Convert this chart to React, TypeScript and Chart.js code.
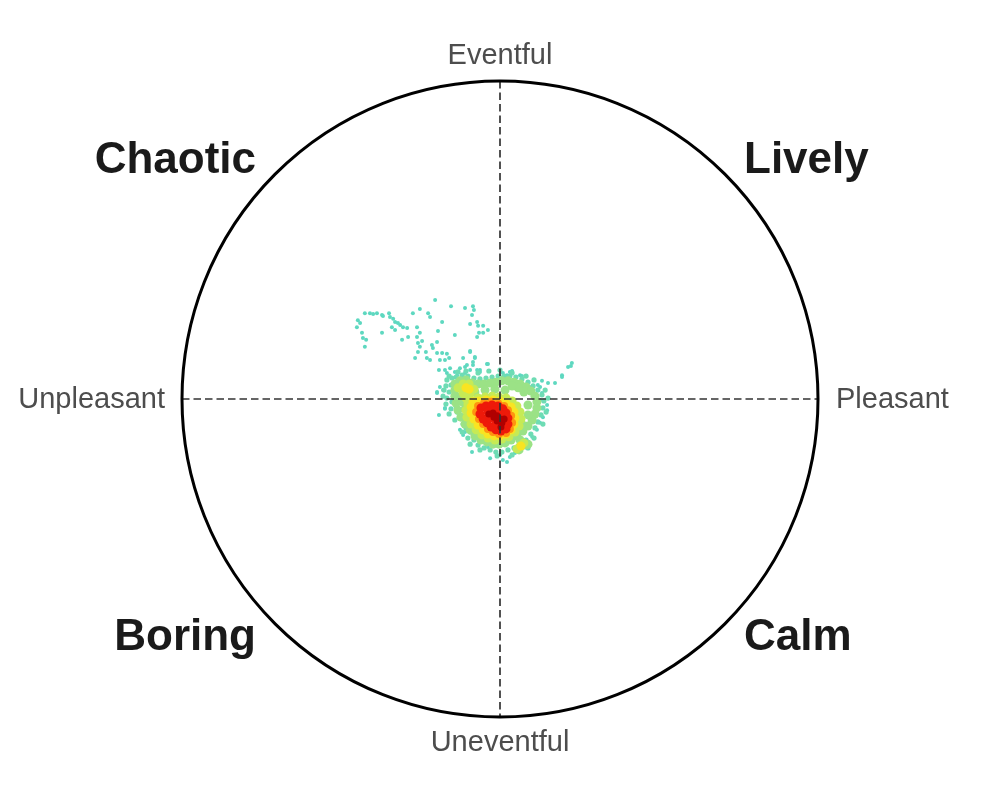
import React, { useEffect, useRef } from "react";
import { Chart, registerables } from "chart.js";

Chart.register(...registerables);

type P = { x: number; y: number };
const pts = (a: number[][]): P[] => a.map(([x, y]) => ({ x, y }));

// Axis / region labels
const axisLabels = { top: "Eventful", bottom: "Uneventful", left: "Unpleasant", right: "Pleasant" };
const quadrantLabels = { tl: "Chaotic", tr: "Lively", bl: "Boring", br: "Calm" };

// Sparse (lowest density) points
const sparsePoints: number[][] = [
  [-0.425, 0.27], [-0.409, 0.27], [-0.399, 0.267], [-0.387, 0.27], [-0.371, 0.264], [-0.368, 0.261],
  [-0.349, 0.27], [-0.346, 0.258], [-0.336, 0.252], [-0.33, 0.242], [-0.321, 0.239], [-0.314, 0.233],
  [-0.305, 0.226], [-0.292, 0.223], [-0.33, 0.217], [-0.34, 0.226], [-0.447, 0.248], [-0.45, 0.226],
  [-0.44, 0.239], [-0.434, 0.208], [-0.431, 0.192], [-0.421, 0.186], [-0.425, 0.164], [-0.371, 0.208],
  [-0.308, 0.186], [-0.289, 0.195], [-0.274, 0.27], [-0.252, 0.283], [-0.204, 0.311], [-0.226, 0.27],
  [-0.22, 0.258], [-0.182, 0.242], [-0.195, 0.214], [-0.142, 0.201], [-0.154, 0.292], [-0.11, 0.286],
  [-0.085, 0.292], [-0.082, 0.28], [-0.088, 0.264], [-0.094, 0.236], [-0.072, 0.242], [-0.069, 0.23],
  [-0.053, 0.23], [-0.038, 0.217], [-0.066, 0.208], [-0.072, 0.195], [-0.053, 0.208], [-0.261, 0.226],
  [-0.252, 0.208], [-0.261, 0.195], [-0.245, 0.182], [-0.258, 0.176], [-0.252, 0.164], [-0.258, 0.148],
  [-0.267, 0.129], [-0.233, 0.148], [-0.214, 0.17], [-0.211, 0.16], [-0.198, 0.145], [-0.23, 0.129],
  [-0.22, 0.123], [-0.189, 0.123], [-0.167, 0.142], [-0.16, 0.129], [-0.192, 0.091], [-0.173, 0.091],
  [-0.157, 0.097], [-0.167, 0.082], [-0.142, 0.085], [-0.126, 0.097], [-0.135, 0.075], [-0.11, 0.082],
  [-0.094, 0.091], [-0.104, 0.107], [-0.085, 0.116], [-0.094, 0.148], [-0.079, 0.129], [-0.063, 0.091],
  [-0.041, 0.11], [-0.072, 0.091], [-0.198, 0.179], [-0.182, 0.145], [-0.173, 0.123], [-0.116, 0.129],
  [-0.094, 0.151], [-0.079, 0.132], [-0.11, 0.101], [-0.085, 0.107], [-0.063, 0.085], [-0.038, 0.11],
  [-0.025, 0.066], [-0.016, 0.053], [0.009, 0.082], [0.031, 0.085], [0.025, 0.069], [0.063, 0.075],
  [0.053, 0.053], [0.094, 0.038], [0.119, 0.044], [0.195, 0.075], [0.214, 0.101], [-0.198, 0.022],
  [-0.173, -0.028], [0.132, 0.019], [0.148, -0.019], [0.038, 0.088], [0.022, 0.075], [0.009, 0.069],
  [0.069, 0.072], [0.041, 0.06], [0.072, 0.038], [0.101, 0.031], [0.126, 0.038], [0.132, 0.057],
  [0.151, 0.05], [0.173, 0.05], [0.195, 0.069], [0.223, 0.104], [0.226, 0.113], [0.11, -0.003],
  [0.126, -0.003], [0.148, -0.035], [0.135, -0.057], [0.126, -0.075], [0.116, -0.097], [0.101, -0.119],
  [0.085, -0.138], [-0.088, -0.167], [-0.038, -0.151], [-0.031, -0.186], [0.0, -0.176], [0.009, -0.192],
  [0.031, -0.182], [0.022, -0.198], [0.047, -0.17], [-0.116, -0.113], [-0.11, -0.104], [-0.126, -0.097],
  [-0.192, -0.05], [-0.173, -0.031], [-0.198, 0.019], [-0.189, 0.038], [-0.179, 0.028],
];

// Low density (dense teal) points
const tealPoints: number[][] = [
  [-0.167, 0.06], [-0.151, 0.066], [-0.17, 0.041], [-0.154, 0.044], [-0.16, 0.022], [-0.145, 0.013],
  [-0.167, 0.003], [-0.151, -0.009], [-0.138, -0.022], [-0.154, -0.031], [-0.135, -0.041], [-0.126, -0.06],
  [-0.116, -0.079], [-0.107, -0.091], [-0.094, -0.104], [-0.101, -0.123], [-0.082, -0.129], [-0.069, -0.145],
  [-0.05, -0.154], [-0.031, -0.16], [-0.013, -0.167], [0.006, -0.167], [0.025, -0.16], [0.044, -0.154],
  [0.063, -0.142], [0.082, -0.129], [0.097, -0.11], [0.11, -0.091], [0.119, -0.072], [0.129, -0.05],
  [0.135, -0.028], [0.138, -0.006], [0.132, 0.013], [0.119, 0.028], [0.104, 0.041], [0.088, 0.053],
  [0.069, 0.063], [0.05, 0.069], [0.031, 0.072], [0.013, 0.072], [-0.006, 0.072], [-0.025, 0.069],
  [-0.044, 0.066], [-0.063, 0.063], [-0.082, 0.066], [-0.101, 0.072], [-0.119, 0.075], [-0.138, 0.069],
  [-0.176, 0.028], [-0.16, 0.072], [-0.132, 0.085], [-0.107, 0.088], [-0.069, 0.082], [-0.035, 0.088],
  [0.0, 0.091], [0.038, 0.082], [0.082, 0.072], [0.107, 0.06], [0.142, 0.028], [0.151, 0.003],
  [0.145, -0.041], [0.135, -0.079], [0.107, -0.123], [0.088, -0.154], [0.038, -0.176], [-0.009, -0.179],
  [-0.063, -0.16], [-0.094, -0.142], [-0.119, -0.104], [-0.142, -0.066], [-0.16, -0.047], [-0.17, -0.016],
  [-0.179, 0.009],
];

// Medium-low density (green)
const greenPoints: number[][] = [
  [-0.142, 0.047], [-0.126, 0.057], [-0.107, 0.06], [-0.088, 0.05], [-0.069, 0.047], [-0.05, 0.047],
  [-0.031, 0.05], [-0.013, 0.053], [0.006, 0.057], [0.025, 0.057], [0.044, 0.053], [0.063, 0.047],
  [0.082, 0.038], [0.097, 0.025], [0.11, 0.009], [0.116, -0.009], [0.116, -0.028], [0.11, -0.047],
  [0.101, -0.066], [0.088, -0.085], [0.072, -0.101], [0.053, -0.116], [0.035, -0.129], [0.016, -0.138],
  [-0.003, -0.142], [-0.022, -0.142], [-0.041, -0.135], [-0.06, -0.129], [-0.079, -0.116], [-0.094, -0.097],
  [-0.11, -0.079], [-0.123, -0.057], [-0.132, -0.035], [-0.138, -0.013], [-0.142, 0.009], [-0.142, 0.028],
  [-0.126, 0.035], [-0.119, 0.013], [-0.119, -0.009], [-0.11, -0.031], [0.063, -0.129], [0.079, -0.145],
  [0.06, -0.16], [0.088, -0.142], [0.075, 0.022], [0.057, 0.035], [0.038, 0.041], [0.088, -0.019],
  [0.088, -0.05], [0.069, -0.079], [0.047, -0.097], [-0.047, 0.028], [-0.016, 0.031], [0.016, 0.028],
  [-0.079, 0.022],
];

// Medium density (yellow-green)
const yellowGreenPoints: number[][] = [
  [-0.132, 0.035], [-0.116, 0.047], [-0.097, 0.047], [-0.082, 0.031], [-0.094, 0.019], [-0.116, 0.019],
  [-0.107, 0.003], [-0.091, -0.003], [-0.069, 0.003], [-0.047, 0.006], [-0.025, 0.009], [-0.003, 0.006],
  [0.019, 0.003], [0.038, -0.006], [0.053, -0.022], [0.063, -0.041], [0.066, -0.063], [0.06, -0.085],
  [0.047, -0.104], [0.028, -0.119], [0.006, -0.126], [-0.016, -0.129], [-0.038, -0.123], [-0.057, -0.113],
  [-0.075, -0.097], [-0.091, -0.079], [-0.104, -0.057], [-0.107, -0.035], [-0.101, -0.016], [0.063, -0.148],
  [0.075, -0.138], [0.053, -0.157], [-0.104, 0.031],
];

// Medium-high density (yellow)
const yellowPoints: number[][] = [
  [-0.107, 0.035], [-0.097, 0.031], [-0.085, -0.009], [-0.066, -0.006],
  [-0.044, -0.003], [-0.022, -0.003], [0.0, -0.006], [0.019, -0.013], [0.035, -0.025], [0.044, -0.041],
  [0.047, -0.06], [0.044, -0.079], [0.035, -0.097], [0.019, -0.11], [0.0, -0.116], [-0.019, -0.116],
  [-0.038, -0.11], [-0.053, -0.097], [-0.069, -0.082], [-0.082, -0.063], [-0.091, -0.044], [-0.091, -0.025],
  [0.066, -0.148],
];

// High density (orange)
const orangePoints: number[][] = [
  [-0.069, -0.022], [-0.05, -0.013], [-0.028, -0.009], [-0.006, -0.013], [0.013, -0.022], [0.025, -0.035],
  [0.035, -0.053], [0.038, -0.075], [0.031, -0.094], [0.019, -0.107], [-0.003, -0.11], [-0.022, -0.104],
  [-0.038, -0.094], [-0.053, -0.079], [-0.066, -0.063], [-0.075, -0.041],
];

// Very high density (red)
const redPoints: number[][] = [
  [-0.06, -0.028], [-0.044, -0.022], [-0.025, -0.019], [-0.006, -0.022], [0.009, -0.031], [0.019, -0.044],
  [0.025, -0.06], [0.025, -0.079], [0.019, -0.094], [0.003, -0.101], [-0.013, -0.097], [-0.028, -0.088],
  [-0.041, -0.075], [-0.053, -0.063], [-0.063, -0.047], [-0.038, -0.041], [-0.019, -0.038], [0.0, -0.047],
  [-0.016, -0.063], [0.003, -0.066], [-0.031, -0.06], [-0.009, -0.082], [0.009, -0.082],
];

// Peak density (dark red)
const darkRedPoints: number[][] = [
  [-0.022, -0.044], [-0.009, -0.053], [0.0, -0.063], [0.006, -0.075], [0.003, -0.088], [-0.009, -0.069],
  [-0.019, -0.057], [0.013, -0.063], [-0.035, -0.047],
];

const layerColors = ["#b00000", "#ee1a0a", "#ff9410", "#f8e422", "#c6ea55", "#9be286", "#6edcb4", "#5ed8c0"];
const layerRadii = [3.5, 4.5, 4, 4.5, 4.5, 4.5, 2.6, 2];

const overlay = {
  id: "circumplex",
  afterDatasetsDraw(chart: any) {
    const { ctx, scales } = chart;
    const xs = scales.x;
    const ys = scales.y;
    const cx = xs.getPixelForValue(0);
    const cy = ys.getPixelForValue(0);
    const r = xs.getPixelForValue(1) - cx;
    ctx.save();
    // dashed axes
    ctx.strokeStyle = "#333333";
    ctx.lineWidth = 1.7;
    ctx.setLineDash([7.5, 4]);
    ctx.beginPath();
    ctx.moveTo(xs.getPixelForValue(-1), cy);
    ctx.lineTo(xs.getPixelForValue(1), cy);
    ctx.moveTo(cx, ys.getPixelForValue(1));
    ctx.lineTo(cx, ys.getPixelForValue(-1));
    ctx.stroke();
    ctx.setLineDash([]);
    // circle
    ctx.strokeStyle = "#000000";
    ctx.lineWidth = 3;
    ctx.beginPath();
    ctx.arc(cx, cy, r, 0, Math.PI * 2);
    ctx.stroke();
    // axis labels
    ctx.fillStyle = "#4d4d4d";
    ctx.font = "29px 'Liberation Sans', Arial, sans-serif";
    ctx.textBaseline = "alphabetic";
    ctx.textAlign = "center";
    ctx.fillText(axisLabels.top, cx, cy - r - 17);
    ctx.fillText(axisLabels.bottom, cx, cy + r + 34);
    ctx.textAlign = "right";
    ctx.fillText(axisLabels.left, cx - r - 17, cy + 9);
    ctx.textAlign = "left";
    ctx.fillText(axisLabels.right, cx + r + 18, cy + 9);
    // quadrant labels
    ctx.fillStyle = "#1a1a1a";
    ctx.font = "bold 44px 'Liberation Sans', Arial, sans-serif";
    ctx.textAlign = "right";
    ctx.fillText(quadrantLabels.tl, cx - 244, cy - 226);
    ctx.fillText(quadrantLabels.bl, cx - 244, cy + 251);
    ctx.textAlign = "left";
    ctx.fillText(quadrantLabels.tr, cx + 244, cy - 226);
    ctx.fillText(quadrantLabels.br, cx + 244, cy + 251);
    ctx.restore();
  },
};

export default function App() {
  const ref = useRef<HTMLCanvasElement | null>(null);
  useEffect(() => {
    if (!ref.current) return;
    const layers = [darkRedPoints, redPoints, orangePoints, yellowPoints, yellowGreenPoints, greenPoints, tealPoints, sparsePoints];
    const chart = new Chart(ref.current, {
      type: "scatter",
      data: {
        datasets: layers.map((l, i) => ({
          data: pts(l),
          backgroundColor: layerColors[i],
          borderWidth: 0,
          pointRadius: layerRadii[i],
          pointHoverRadius: layerRadii[i],
          pointBorderWidth: 0,
          clip: false as any,
        })),
      },
      options: {
        animation: false,
        responsive: false,
        maintainAspectRatio: false,
        layout: { padding: { left: 182, right: 182, top: 81, bottom: 83 } },
        plugins: { legend: { display: false }, tooltip: { enabled: false } },
        scales: {
          x: { type: "linear", min: -1, max: 1, display: false },
          y: { type: "linear", min: -1, max: 1, display: false },
        },
      },
      plugins: [overlay],
    });
    return () => chart.destroy();
  }, []);
  return (
    <div style={{ position: "absolute", left: 0, top: 0, width: 1000, height: 800, background: "#ffffff" }}>
      <canvas ref={ref} width={1000} height={800} />
    </div>
  );
}
